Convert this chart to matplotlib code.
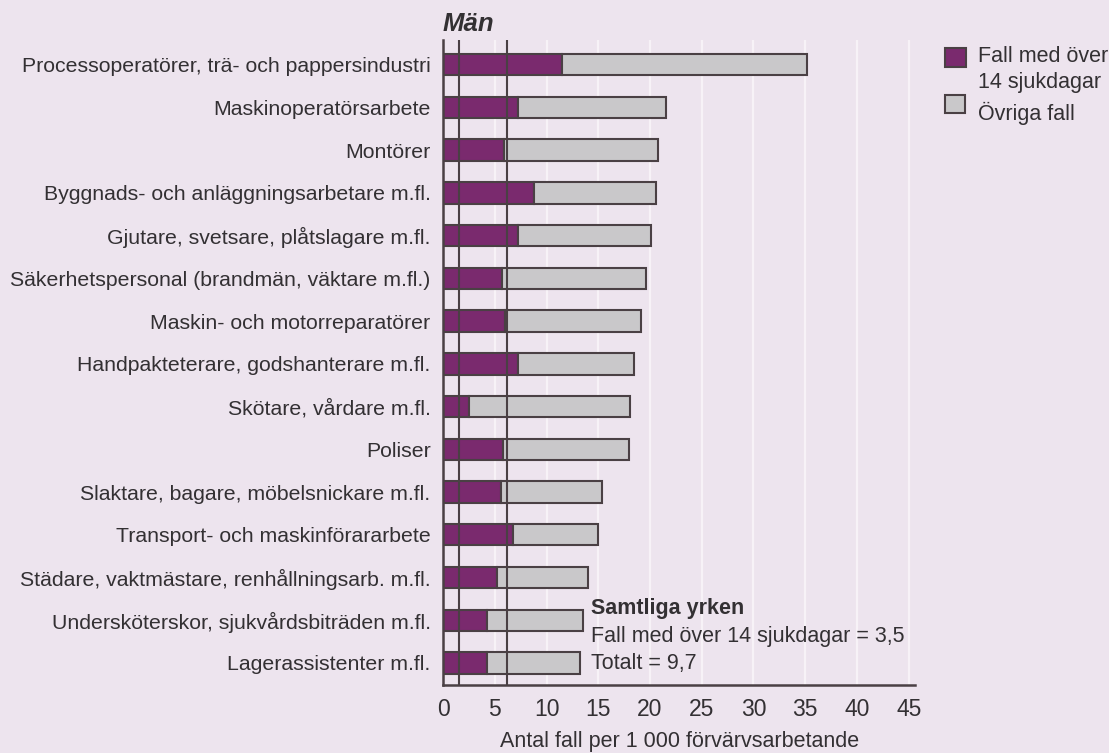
import matplotlib.pyplot as plt
from matplotlib.patches import Rectangle

plt.rcParams['font.family'] = ['Liberation Sans', 'DejaVu Sans']

# yrken, uppifrån och ned
yrken = [
    "Processoperatörer, trä- och pappersindustri",
    "Maskinoperatörsarbete",
    "Montörer",
    "Byggnads- och anläggningsarbetare m.fl.",
    "Gjutare, svetsare, plåtslagare m.fl.",
    "Säkerhetspersonal (brandmän, väktare m.fl.)",
    "Maskin- och motorreparatörer",
    "Handpakteterare, godshanterare m.fl.",
    "Skötare, vårdare m.fl.",
    "Poliser",
    "Slaktare, bagare, möbelsnickare m.fl.",
    "Transport- och maskinförararbete",
    "Städare, vaktmästare, renhållningsarb. m.fl.",
    "Undersköterskor, sjukvårdsbiträden m.fl.",
    "Lagerassistenter m.fl.",
]
over14 = [11.5, 7.2, 5.9, 8.8, 7.2, 5.7, 6.0, 7.2, 2.5, 5.8, 5.6, 6.8, 5.2, 4.2, 4.2]
totalt = [35.2, 21.5, 20.8, 20.6, 20.1, 19.6, 19.1, 18.5, 18.1, 18.0, 15.4, 15.0, 14.0, 13.5, 13.2]
ovriga = [t - o for t, o in zip(totalt, over14)]
ref_linjer = [1.5, 6.2]
xticks = [0, 5, 10, 15, 20, 25, 30, 35, 40, 45]

bg = '#ede4ee'
lila = '#7a2a6e'
gra = '#c9c8ca'
kant = '#4a4044'
txt = '#333033'

W, H = 1109, 753
fig = plt.figure(figsize=(W / 100, H / 100), dpi=100, facecolor=bg)
ax = fig.add_axes([0.3995, 0.0903, 0.4255, 0.857])
ax.set_facecolor(bg)

y = list(range(len(yrken)))
for x in xticks[1:]:
    ax.axvline(x, color='#f7f2f7', lw=1.6, zorder=0)

ax.barh(y, over14, height=0.5, color=lila, edgecolor=kant, lw=1.5, zorder=2)
ax.barh(y, ovriga, left=over14, height=0.5, color=gra, edgecolor=kant, lw=1.5, zorder=2)
for x in ref_linjer:
    ax.axvline(x, color=kant, lw=1.5, zorder=3)

ax.set_xlim(0, 45.6)
ax.set_ylim(14.515, -0.585)
ax.set_yticks(y)
ax.set_yticklabels(yrken, fontsize=15.3, color=txt)
ax.set_xticks(xticks)
ax.set_xticklabels([str(v) for v in xticks], fontsize=16.5, color=txt)
ax.tick_params(axis='y', length=0, pad=9)
ax.tick_params(axis='x', length=0, pad=9)
for s in ['top', 'right']:
    ax.spines[s].set_visible(False)
ax.spines['left'].set_color(kant)
ax.spines['bottom'].set_color(kant)
ax.spines['left'].set_linewidth(1.8)
ax.spines['bottom'].set_linewidth(1.8)

# x-axelns rubrik
fig.text(680 / W, 1 - 747 / H, 'Antal fall per 1 000 förvärvsarbetande', fontsize=15.5,
         color=txt, ha='center', va='baseline')

fig.text(0.4225, 0.968, 'Män', fontsize=18.5, fontweight='bold', fontstyle='italic',
         color=txt, ha='center', va='center')

ax.text(14.3, 12.72, 'Samtliga yrken', fontsize=15.5, fontweight='bold', color=txt, va='center')
ax.text(14.3, 13.37, 'Fall med över 14 sjukdagar = 3,5', fontsize=15.5, color=txt, va='center')
ax.text(14.3, 14.02, 'Totalt = 9,7', fontsize=15.5, color=txt, va='center')

# teckenförklaring
fig.add_artist(Rectangle((945 / W, 1 - 67 / H), 21 / W, 19 / H,
                         transform=fig.transFigure, facecolor=lila, edgecolor=kant, lw=1.5))
fig.add_artist(Rectangle((945 / W, 1 - 113 / H), 20 / W, 18 / H,
                         transform=fig.transFigure, facecolor=gra, edgecolor=kant, lw=1.5))
fig.text(978 / W, 1 - 62 / H, 'Fall med över', fontsize=15.5, color=txt, va='baseline')
fig.text(978 / W, 1 - 88 / H, '14 sjukdagar', fontsize=15.5, color=txt, va='baseline')
fig.text(978 / W, 1 - 120 / H, 'Övriga fall', fontsize=15.5, color=txt, va='baseline')

fig.savefig('out.png', dpi=100, facecolor=bg)
